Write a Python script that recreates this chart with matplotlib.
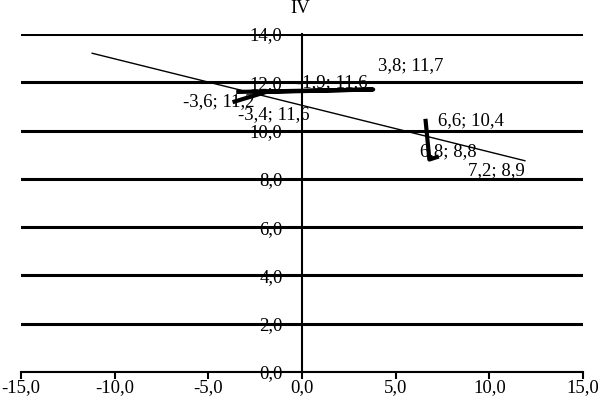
import matplotlib
matplotlib.use("Agg")
import matplotlib.pyplot as plt

# trend line (thin)
trend_x = [-11.2, 11.9]
trend_y = [13.2, 8.75]

# first trajectory (thick)
path1_x = [-3.6, -1.9, 3.8, -3.4]
path1_y = [11.2, 11.6, 11.7, 11.6]

# second trajectory (thick)
path2_x = [6.6, 6.8, 7.2]
path2_y = [10.4, 8.8, 8.9]

# point labels: x, y, text, offset in pixels, horizontal alignment
labels = [
    (3.8, 11.7, "3,8; 11,7", (5, 24), "left"),
    (-1.9, 11.6, "-1,9; 11,6", (30, 9), "left"),
    (-3.6, 11.2, "-3,6; 11,2", (20, 0), "right"),
    (-3.4, 11.6, "-3,4; 11,6", (0, -23), "left"),
    (6.6, 10.4, "6,6; 10,4", (12, 0), "left"),
    (6.8, 8.8, "6,8; 8,8", (-9, 8), "left"),
    (7.2, 8.9, "7,2; 8,9", (31, -13), "left"),
]

xticks = [-15, -10, -5, 0, 5, 10, 15]
yticks = [0, 2, 4, 6, 8, 10, 12, 14]

plt.rcParams["font.family"] = ["Liberation Serif", "DejaVu Serif"]

fig = plt.figure(figsize=(6.01, 4.04), dpi=100)
ax = fig.add_axes([0.035, 0.079, 0.935, 0.837])

for y in yticks:
    ax.axhline(y, color="black", lw=2.2, zorder=1)

ax.plot(trend_x, trend_y, color="black", lw=1.0, zorder=3)
ax.plot(path1_x, path1_y, color="black", lw=3.0, zorder=3, solid_joinstyle="round")
ax.plot(path2_x, path2_y, color="black", lw=3.0, zorder=3, solid_joinstyle="round")

for x, y, txt, off, ha in labels:
    ax.annotate(txt, (x, y), xytext=off, textcoords="offset pixels",
                ha=ha, va="center", fontsize=13.5, zorder=4)

ax.set_xlim(-15, 15)
ax.set_ylim(0, 14)
ax.set_xticks(xticks)
ax.set_yticks(yticks)
ax.set_xticklabels([f"{v:.1f}".replace(".", ",") for v in xticks])
ax.set_yticklabels([f"{v:.1f}".replace(".", ",") for v in yticks])

for s in ["top", "right"]:
    ax.spines[s].set_visible(False)
ax.spines["left"].set_position(("data", 0))
ax.spines["left"].set_linewidth(1.5)
ax.spines["bottom"].set_position(("data", 0))
ax.spines["bottom"].set_linewidth(1.5)
ax.tick_params(axis="x", direction="out", length=5, width=1.5, pad=0, labelsize=13.5)
ax.tick_params(axis="y", length=0, pad=14, labelsize=13.5)

# title sits right at the top edge
fig.text(0.5, 0.98, "IV", ha="center", va="center", fontsize=13.5)

fig.savefig("out.png", dpi=100)
